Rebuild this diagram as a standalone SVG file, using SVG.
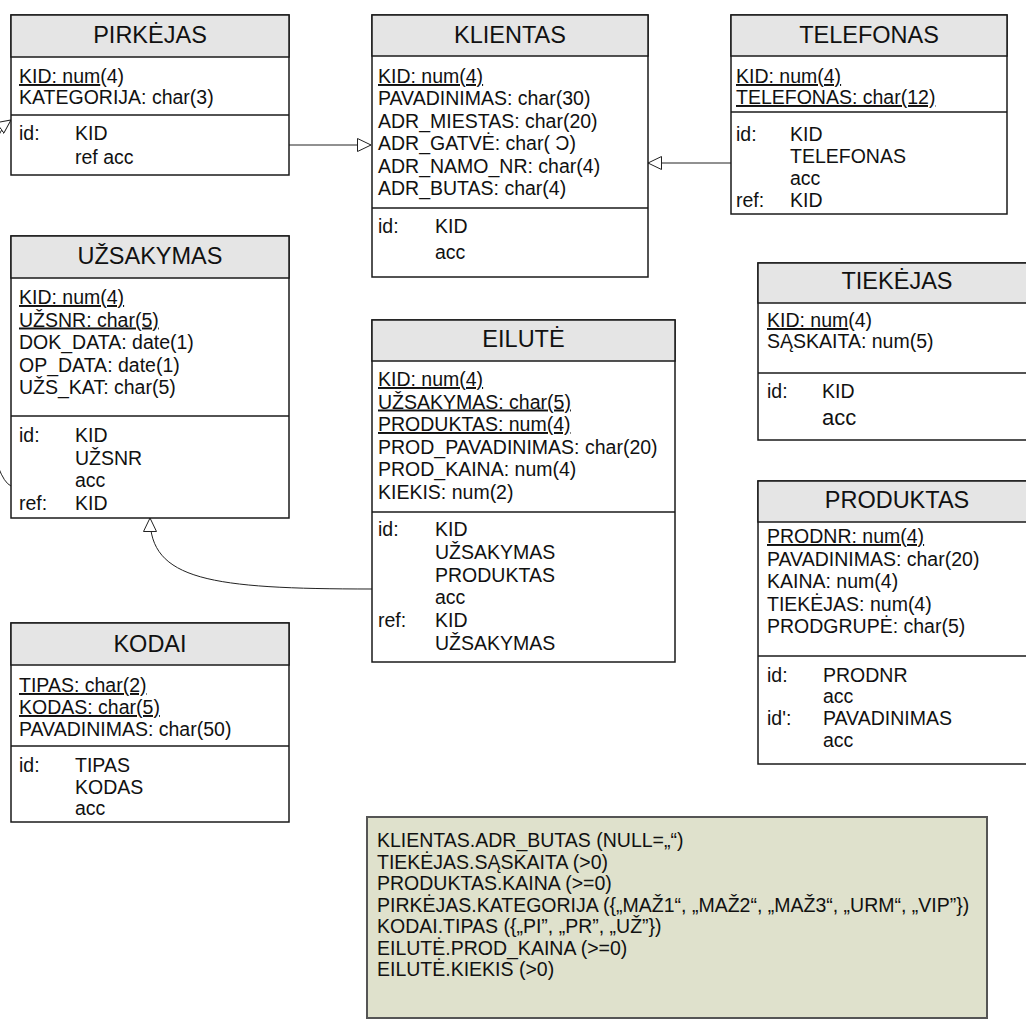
<svg xmlns="http://www.w3.org/2000/svg" width="1026" height="1023" viewBox="0 0 1026 1023">
<defs>
<style>
.box{fill:#fff;stroke:#1a1a1a;stroke-width:1.5}
.hdr{fill:#e5e5e5;stroke:#1a1a1a;stroke-width:1.5}
.sep{stroke:#1a1a1a;stroke-width:1.5}
.t{font-family:"Liberation Sans",Arial,sans-serif;font-size:23.5px;fill:#111;text-anchor:middle}
.a{font-family:"Liberation Sans",Arial,sans-serif;font-size:19.5px;fill:#111}
.u{text-decoration:underline}
.con{fill:none;stroke:#222;stroke-width:1}
.note{fill:#dfe1cc;stroke:#555;stroke-width:2}
</style>
<marker id="tri" viewBox="0 0 14 14" refX="14" refY="7" markerWidth="14" markerHeight="14" markerUnits="userSpaceOnUse" orient="auto">
<path d="M0.5,0.5 L14,7 L0.5,13.5 z" fill="#fff" stroke="#222" stroke-width="1"/>
</marker>
</defs>
<rect width="1026" height="1023" fill="#fff"/>

<g id="connectors">
<path class="con" d="M289,145 L371,145" marker-end="url(#tri)"/>
<path class="con" d="M731,163 L648,163" marker-end="url(#tri)"/>
<path class="con" d="M372,589 C210,589 150,580 150,518" marker-end="url(#tri)"/>
<path class="con" d="M11,486 C-25,470 -45,160 11,120" marker-end="url(#tri)"/>
</g>

<g id="pirkejas">
<rect class="box" x="11" y="15" width="278" height="160"/>
<rect class="hdr" x="11" y="15" width="278" height="42"/>
<line class="sep" x1="11" y1="115" x2="289" y2="115"/>
<text class="t" x="150" y="43">PIRKĖJAS</text>
<text class="a" x="19" y="83"><tspan class="u">KID: num</tspan>(4)</text>
<text class="a" x="19" y="104">KATEGORIJA: char(3)</text>
<text class="a" x="19" y="140">id:</text>
<text class="a" x="75" y="140">KID</text>
<text class="a" x="75" y="164">ref acc</text>
</g>

<g id="klientas">
<rect class="box" x="372" y="15" width="276" height="262"/>
<rect class="hdr" x="372" y="15" width="276" height="41"/>
<line class="sep" x1="372" y1="208" x2="648" y2="208"/>
<text class="t" x="510" y="43">KLIENTAS</text>
<text class="a u" x="378" y="83">KID: num(4)</text>
<text class="a" x="378" y="105">PAVADINIMAS: char(30)</text>
<text class="a" x="378" y="127.5">ADR_MIESTAS: char(20)</text>
<text class="a" x="378" y="150">ADR_GATVĖ: char( Ɔ)</text>
<text class="a" x="378" y="172.5">ADR_NAMO_NR: char(4)</text>
<text class="a" x="378" y="195">ADR_BUTAS: char(4)</text>
<text class="a" x="378" y="233">id:</text>
<text class="a" x="435" y="233">KID</text>
<text class="a" x="435" y="259">acc</text>
</g>

<g id="telefonas">
<rect class="box" x="731" y="15" width="276" height="199"/>
<rect class="hdr" x="731" y="15" width="276" height="41"/>
<line class="sep" x1="731" y1="112" x2="1007" y2="112"/>
<text class="t" x="869" y="43">TELEFONAS</text>
<text class="a u" x="736" y="83">KID: num(4)</text>
<text class="a u" x="736" y="104">TELEFONAS: char(12)</text>
<text class="a" x="736" y="141">id:</text>
<text class="a" x="790" y="141">KID</text>
<text class="a" x="790" y="163">TELEFONAS</text>
<text class="a" x="790" y="185">acc</text>
<text class="a" x="736" y="207">ref:</text>
<text class="a" x="790" y="207">KID</text>
</g>

<g id="uzsakymas">
<rect class="box" x="11" y="236" width="278" height="282"/>
<rect class="hdr" x="11" y="236" width="278" height="42"/>
<line class="sep" x1="11" y1="416" x2="289" y2="416"/>
<text class="t" x="150" y="264">UŽSAKYMAS</text>
<text class="a u" x="19" y="304">KID: num(4)</text>
<text class="a u" x="19" y="326.5">UŽSNR: char(5)</text>
<text class="a" x="19" y="349">DOK_DATA: date(1)</text>
<text class="a" x="19" y="371.5">OP_DATA: date(1)</text>
<text class="a" x="19" y="394">UŽS_KAT: char(5)</text>
<text class="a" x="19" y="442">id:</text>
<text class="a" x="75" y="442">KID</text>
<text class="a" x="75" y="464.5">UŽSNR</text>
<text class="a" x="75" y="487">acc</text>
<text class="a" x="19" y="510">ref:</text>
<text class="a" x="75" y="510">KID</text>
</g>

<g id="eilute">
<rect class="box" x="372" y="320" width="303" height="342"/>
<rect class="hdr" x="372" y="320" width="303" height="41"/>
<line class="sep" x1="372" y1="512" x2="675" y2="512"/>
<text class="t" x="523.5" y="347">EILUTĖ</text>
<text class="a u" x="378" y="386">KID: num(4)</text>
<text class="a u" x="378" y="408.5">UŽSAKYMAS: char(5)</text>
<text class="a u" x="378" y="431">PRODUKTAS: num(4)</text>
<text class="a" x="378" y="453.5">PROD_PAVADINIMAS: char(20)</text>
<text class="a" x="378" y="476">PROD_KAINA: num(4)</text>
<text class="a" x="378" y="498.5">KIEKIS: num(2)</text>
<text class="a" x="378" y="536">id:</text>
<text class="a" x="435" y="536">KID</text>
<text class="a" x="435" y="559">UŽSAKYMAS</text>
<text class="a" x="435" y="582">PRODUKTAS</text>
<text class="a" x="435" y="604">acc</text>
<text class="a" x="378" y="627">ref:</text>
<text class="a" x="435" y="627">KID</text>
<text class="a" x="435" y="650">UŽSAKYMAS</text>
</g>

<g id="kodai">
<rect class="box" x="11" y="623" width="278" height="199"/>
<rect class="hdr" x="11" y="623" width="278" height="42"/>
<line class="sep" x1="11" y1="746" x2="289" y2="746"/>
<text class="t" x="150" y="652">KODAI</text>
<text class="a u" x="19" y="692">TIPAS: char(2)</text>
<text class="a u" x="19" y="714">KODAS: char(5)</text>
<text class="a" x="19" y="736">PAVADINIMAS: char(50)</text>
<text class="a" x="19" y="772">id:</text>
<text class="a" x="75" y="772">TIPAS</text>
<text class="a" x="75" y="794">KODAS</text>
<text class="a" x="75" y="815">acc</text>
</g>

<g id="tiekejas">
<rect class="box" x="758" y="263" width="280" height="177"/>
<rect class="hdr" x="758" y="263" width="280" height="40"/>
<line class="sep" x1="758" y1="373" x2="1038" y2="373"/>
<text class="t" x="897" y="289">TIEKĖJAS</text>
<text class="a" x="767" y="327"><tspan class="u">KID: num</tspan>(4)</text>
<text class="a" x="767" y="348">SĄSKAITA: num(5)</text>
<text class="a" x="767" y="398">id:</text>
<text class="a" x="822" y="398">KID</text>
<text class="a" x="822" y="425" style="font-size:22px">acc</text>
</g>

<g id="produktas">
<rect class="box" x="758" y="481" width="280" height="283"/>
<rect class="hdr" x="758" y="481" width="280" height="41"/>
<line class="sep" x1="758" y1="656" x2="1038" y2="656"/>
<text class="t" x="897" y="508">PRODUKTAS</text>
<text class="a u" x="767" y="543">PRODNR: num(4)</text>
<text class="a" x="767" y="565.5">PAVADINIMAS: char(20)</text>
<text class="a" x="767" y="588">KAINA: num(4)</text>
<text class="a" x="767" y="610.5">TIEKĖJAS: num(4)</text>
<text class="a" x="767" y="633">PRODGRUPĖ: char(5)</text>
<text class="a" x="767" y="682">id:</text>
<text class="a" x="823" y="682">PRODNR</text>
<text class="a" x="823" y="703">acc</text>
<text class="a" x="767" y="725">id':</text>
<text class="a" x="823" y="725">PAVADINIMAS</text>
<text class="a" x="823" y="747">acc</text>
</g>

<g id="note">
<rect class="note" x="367" y="817" width="620" height="201"/>
<text class="a" x="377" y="847">KLIENTAS.ADR_BUTAS (NULL=„“)</text>
<text class="a" x="377" y="868.5">TIEKĖJAS.SĄSKAITA (&gt;0)</text>
<text class="a" x="377" y="890">PRODUKTAS.KAINA (&gt;=0)</text>
<text class="a" x="377" y="911.5">PIRKĖJAS.KATEGORIJA ({„MAŽ1“, „MAŽ2“, „MAŽ3“, „URM“, „VIP”})</text>
<text class="a" x="377" y="933">KODAI.TIPAS ({„PI”, „PR”, „UŽ”})</text>
<text class="a" x="377" y="954.5">EILUTĖ.PROD_KAINA (&gt;=0)</text>
<text class="a" x="377" y="976">EILUTĖ.KIEKIS (&gt;0)</text>
</g>
</svg>
